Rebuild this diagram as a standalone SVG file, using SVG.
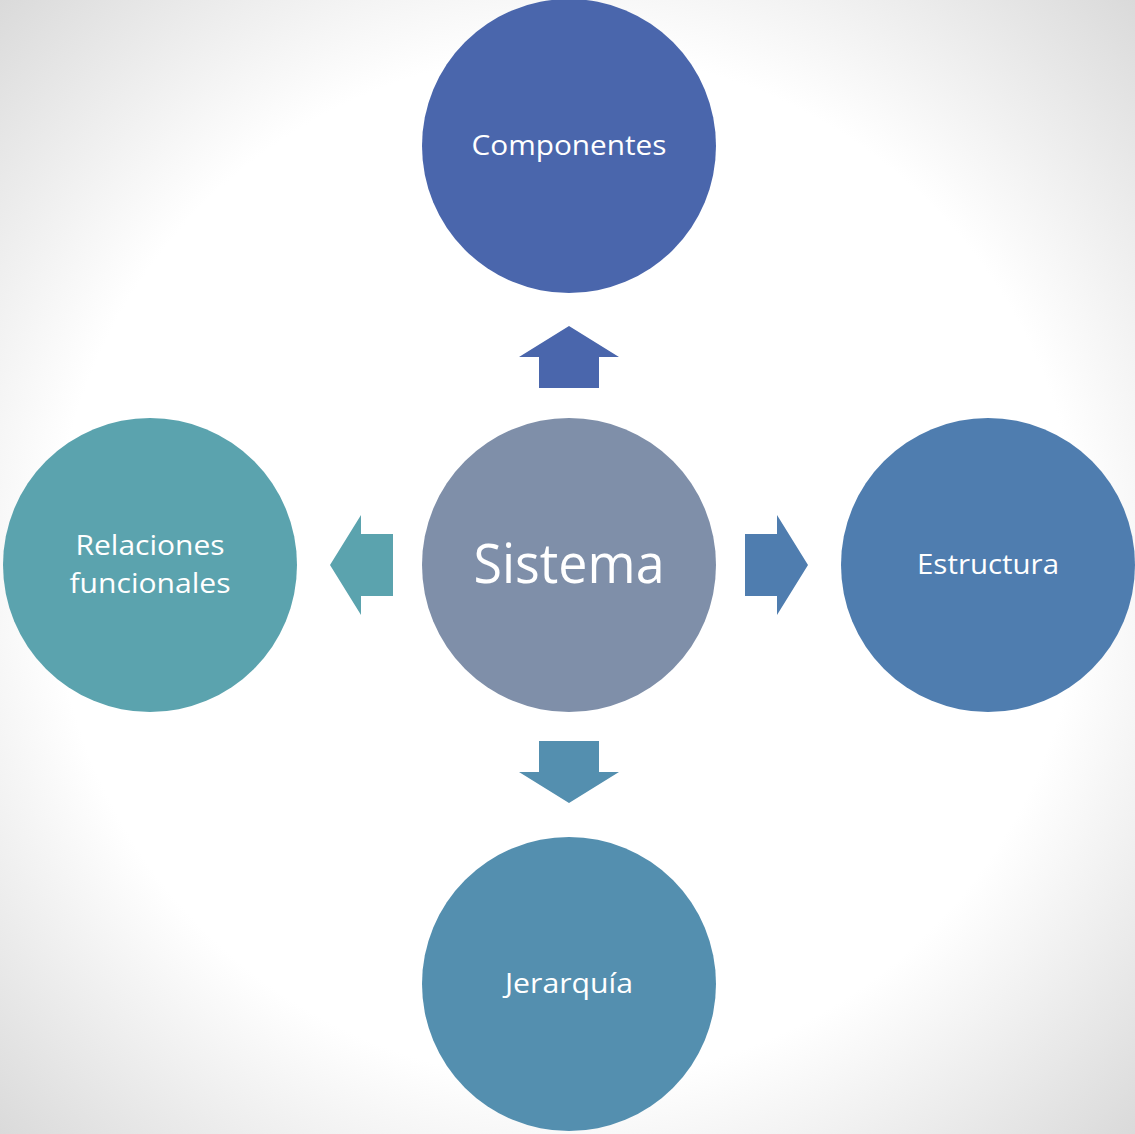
<svg xmlns="http://www.w3.org/2000/svg" width="1135" height="1134" viewBox="0 0 1135 1134">
<defs>
<radialGradient id="bg" cx="567" cy="567" r="802" gradientUnits="userSpaceOnUse">
<stop offset="0" stop-color="#ffffff"/>
<stop offset="0.64" stop-color="#ffffff"/>
<stop offset="1" stop-color="#dadada"/>
</radialGradient>
<style>
.lbl{font-family:"Open Sans","Noto Sans","Liberation Sans",sans-serif;fill:#ffffff;text-anchor:middle;dominant-baseline:central;font-size:28px}
.big{font-size:54px}
</style>
</defs>
<rect x="0" y="0" width="1135" height="1134" fill="url(#bg)"/>
<g id="connectors">
<polygon points="569,326 619,357 599,357 599,388 539,388 539,357 519,357" fill="#4A66AC"/>
<polygon points="330,565 361,515 361,534 393,534 393,596 361,596 361,615" fill="#5BA3AE"/>
<polygon points="808,565 777,515 777,534 745,534 745,596 777,596 777,615" fill="#4F7DAF"/>
<polygon points="569,803 619,772 599,772 599,741 539,741 539,772 519,772" fill="#548FAF"/>
</g>
<g id="componentes">
<circle cx="569" cy="146" r="147" fill="#4A66AC"/>
<text class="lbl" x="569" y="144" textLength="195" lengthAdjust="spacingAndGlyphs">Componentes</text>
</g>
<g id="sistema">
<circle cx="569" cy="565" r="147" fill="#7F8FA9"/>
<text class="lbl big" x="569" y="562" textLength="191" lengthAdjust="spacingAndGlyphs">Sistema</text>
</g>
<g id="estructura">
<circle cx="988" cy="565" r="147" fill="#4F7DAF"/>
<text class="lbl" x="988" y="563" textLength="142" lengthAdjust="spacingAndGlyphs">Estructura</text>
</g>
<g id="jerarquia">
<circle cx="569" cy="984" r="147" fill="#548FAF"/>
<text class="lbl" x="569" y="982" textLength="128" lengthAdjust="spacingAndGlyphs">Jerarquía</text>
</g>
<g id="relaciones">
<circle cx="150" cy="565" r="147" fill="#5BA3AE"/>
<text class="lbl" x="150" y="544" textLength="149" lengthAdjust="spacingAndGlyphs">Relaciones</text>
<text class="lbl" x="150" y="582" textLength="161" lengthAdjust="spacingAndGlyphs">funcionales</text>
</g>
</svg>
